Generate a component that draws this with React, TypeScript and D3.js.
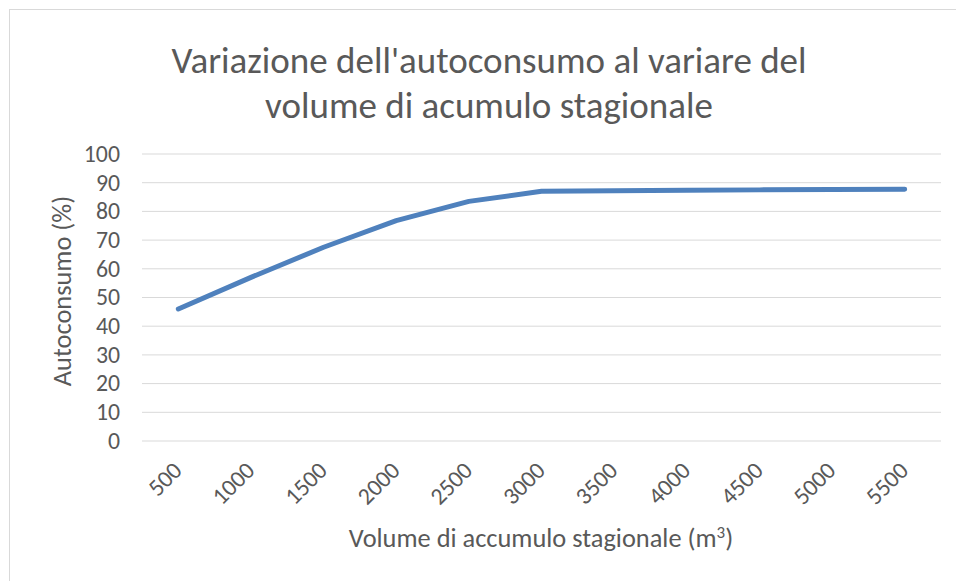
import { useEffect, useRef } from "react"
import * as d3 from "d3"

const volumes = ["500", "1000", "1500", "2000", "2500", "3000", "3500", "4000", "4500", "5000", "5500"]
const autoconsumo = [46, 57, 67.5, 76.8, 83.5, 87, 87.2, 87.4, 87.5, 87.6, 87.7]
const yTicks = [0, 10, 20, 30, 40, 50, 60, 70, 80, 90, 100]
const titleLines = ["Variazione dell'autoconsumo al variare del", "volume di acumulo stagionale"]

export default function App() {
    const ref = useRef<SVGSVGElement>(null)

    useEffect(() => {
        const width = 956
        const height = 581
        const margin = { top: 154, left: 142, right: 15, bottom: 140 }
        const font = "Carlito, Calibri, 'Open Sans', sans-serif"
        const textColor = '#595959'

        const svg = d3.select(ref.current)
        svg.selectAll("*").remove()
        svg.attr("width", width).attr("height", height)

        // outer chart border
        svg.append("rect")
            .attr("x", 9.5).attr("y", 9.5)
            .attr("width", width + 10).attr("height", height + 10)
            .attr("fill", "white")
            .attr("stroke", "#d9d9d9")

        const x = d3.scaleBand().domain(volumes).range([margin.left, width - margin.right])
        const y = d3.scaleLinear().domain([0, 100]).range([height - margin.bottom, margin.top])
        const cx = (v: string) => (x(v) ?? 0) + x.bandwidth() / 2

        // gridlines
        svg.append("g")
            .selectAll("line")
            .data(yTicks)
            .join("line")
                .attr("x1", margin.left).attr("x2", width - margin.right)
                .attr("y1", d => y(d)).attr("y2", d => y(d))
                .attr("stroke", "#d9d9d9")
                .attr("stroke-width", 1)

        // y tick labels
        svg.append("g")
            .selectAll("text")
            .data(yTicks)
            .join("text")
                .attr("x", 120)
                .attr("y", d => y(d))
                .attr("dy", "0.33em")
                .attr("text-anchor", "end")
                .attr("font-family", font)
                .attr("font-size", 23.8)
                .attr("fill", textColor)
                .text(d => d)

        // x tick labels, rotated
        svg.append("g")
            .selectAll("text")
            .data(volumes)
            .join("text")
                .attr("transform", d => `translate(${cx(d) + 5}, 472) rotate(-45)`)
                .attr("text-anchor", "end")
                .attr("font-family", font)
                .attr("font-size", 23.8)
                .attr("fill", textColor)
                .text(d => d)

        // line
        const line = d3.line<number>()
            .x((_, i) => cx(volumes[i]))
            .y(d => y(d))
        svg.append("path")
            .datum(autoconsumo)
            .attr("d", line)
            .attr("fill", "none")
            .attr("stroke", "#4f81bd")
            .attr("stroke-width", 5)
            .attr("stroke-linecap", "round")
            .attr("stroke-linejoin", "round")

        // title
        svg.append("text")
            .attr("x", 489).attr("y", 73)
            .attr("text-anchor", "middle")
            .attr("font-family", font)
            .attr("font-size", 37)
            .attr("fill", textColor)
            .selectAll("tspan")
            .data(titleLines)
            .join("tspan")
                .attr("x", 489)
                .attr("dy", (_, i) => i === 0 ? 0 : 45)
                .text(d => d)

        // y axis title
        svg.append("text")
            .attr("transform", `translate(71, 291) rotate(-90)`)
            .attr("text-anchor", "middle")
            .attr("font-family", font)
            .attr("font-size", 26.4)
            .attr("fill", textColor)
            .text("Autoconsumo (%)")

        // x axis title
        const xt = svg.append("text")
            .attr("x", 541).attr("y", 547)
            .attr("text-anchor", "middle")
            .attr("font-family", font)
            .attr("font-size", 26.4)
            .attr("fill", textColor)
        xt.append("tspan").text("Volume di accumulo stagionale (m")
        xt.append("tspan").attr("dy", -9).attr("font-size", 17).text("3")
        xt.append("tspan").attr("dy", 9).text(")")
    }, [])

    return (
        <svg ref={ref} style={{ position: "absolute", left: 0, top: 0, display: "block" }}></svg>
    )
}
